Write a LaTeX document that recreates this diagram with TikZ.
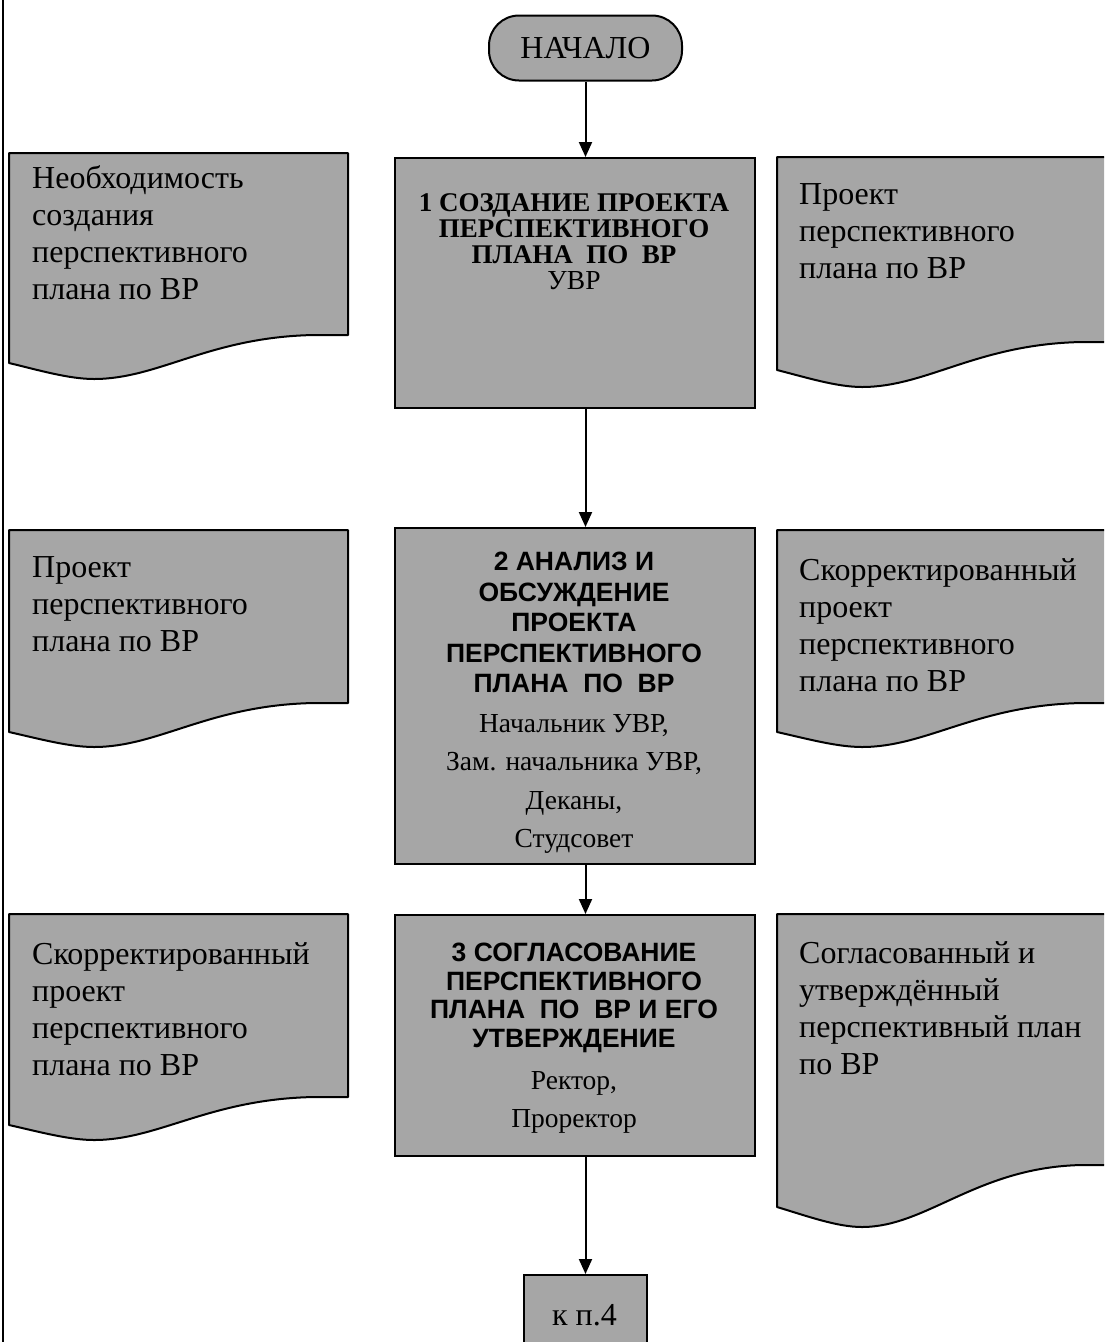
\documentclass[tikz,border=0pt]{standalone}
\usepackage{fontspec}
\setmainfont{Liberation Serif}
\newfontfamily\sansbold{Liberation Sans}
\usetikzlibrary{arrows.meta}
\definecolor{boxgray}{RGB}{166,166,166}
\tikzset{
 boxstyle/.style={draw=black, line width=2pt, fill=boxgray, inner sep=0pt, anchor=north west},
 docstyle/.style={draw=black, line width=2pt, fill=boxgray, line join=round},
 arr/.style={line width=2pt, -{Triangle[length=15pt,width=13pt]}},
 doctext/.style={anchor=north west, inner sep=0pt, align=left, font=\fontsize{32}{37}\selectfont},
 ttitle/.style={anchor=north, inner sep=0pt, align=center, font=\fontsize{27}{26}\selectfont\bfseries},
 stitle/.style={anchor=north, inner sep=0pt, align=center, font=\sansbold\fontsize{26.5}{30.5}\selectfont\bfseries},
 subtext/.style={anchor=north, inner sep=0pt, align=center, font=\fontsize{27.5}{38.5}\selectfont},
}
% L T Yr Yl Ymin
\newcommand{\drawdoc}[5]{%
 \filldraw[docstyle] (#1,#2) -- ({#1+339},#2) -- ({#1+339},#3) -- ({#1+305},#3)
   .. controls ({#1+200},{#3+2}) and ({#1+150},#5) .. ({#1+85},#5)
   .. controls ({#1+60},#5) and ({#1+30},{#4+0.45*(#5-#4)}) .. (#1,#4) -- cycle;}
\begin{document}
\begin{tikzpicture}[x=1pt,y=-1pt]
\useasboundingbox (0,0) rectangle (1104,1342);
\clip (0,0) rectangle (1104,1342);
\fill[white] (0,0) rectangle (1104,1342);
% left border
\draw[line width=2pt] (3,-5) -- (3,1350);

% start
\node[draw=black, line width=2pt, fill=boxgray, rounded corners=30pt, minimum width=193pt, minimum height=65pt, inner sep=0pt,
  font=\fontsize{32}{37}\selectfont] (start) at (585.5,48) {НАЧАЛО};

% process boxes
\node[boxstyle, minimum width=360pt, minimum height=250pt] (box1) at (394,157) {};
\node[boxstyle, minimum width=360pt, minimum height=336pt] (box2) at (394,527) {};
\node[boxstyle, minimum width=360pt, minimum height=241pt] (box3) at (394,914) {};
\node[boxstyle, minimum width=123pt, minimum height=90pt] (kp4) at (523,1274) {};
\node[inner sep=0pt, font=\fontsize{32}{37}\selectfont] (kp4t) at (584.5,1315) {к п.4};

% box texts
\node[ttitle] (t1) at (574,193.5) {1 СОЗДАНИЕ ПРОЕКТА\\ПЕРСПЕКТИВНОГО\\ПЛАНА~ ПО~ ВР};
\node[subtext] (s1) at (574,271) {УВР};

\node[stitle] (t2) at (574,552) {2 АНАЛИЗ И\\ОБСУЖДЕНИЕ\\ПРОЕКТА\\ПЕРСПЕКТИВНОГО\\ПЛАНА~ ПО~ ВР};
\node[subtext] (s2) at (574,714) {Начальник УВР,\\Зам. начальника УВР,\\Деканы,\\Студсовет};

\node[stitle, font=\sansbold\fontsize{26.5}{28.5}\selectfont\bfseries] (t3) at (574,943) {3 СОГЛАСОВАНИЕ\\ПЕРСПЕКТИВНОГО\\ПЛАНА~ ПО~ ВР И ЕГО\\УТВЕРЖДЕНИЕ};
\node[subtext] (s3) at (574,1071) {Ректор,\\Проректор};

% documents
\drawdoc{9}{153}{335}{363}{379}
\drawdoc{777}{157}{342}{370}{387}
\drawdoc{9}{530}{703}{732}{747}
\drawdoc{777}{530}{703}{732}{747}
\drawdoc{9}{914}{1097}{1125}{1140}
\drawdoc{777}{914}{1165}{1207}{1227}

\node[doctext] (dl1) at (32,165.5) {Необходимость\\создания\\перспективного\\плана по ВР};
\node[doctext] (dr1) at (799,183.5) {Проект\\перспективного\\плана по ВР};
\node[doctext] (dl2) at (32,556) {Проект\\перспективного\\плана по ВР};
\node[doctext] (dr2) at (799,558.5) {Скорректированный\\проект\\перспективного\\плана по ВР};
\node[doctext] (dl3) at (32,942) {Скорректированный\\проект\\перспективного\\плана по ВР};
\node[doctext] (dr3) at (799,941.5) {Согласованный и\\утверждённый\\перспективный план\\по ВР};

% connectors
\draw[arr] (start.south) -- (box1.north -| start.south);
\draw[arr] (box1.south -| start.south) -- (box2.north -| start.south);
\draw[arr] (box2.south -| start.south) -- (box3.north -| start.south);
\draw[arr] (box3.south -| kp4.north) -- (kp4.north);
\end{tikzpicture}
\end{document}
